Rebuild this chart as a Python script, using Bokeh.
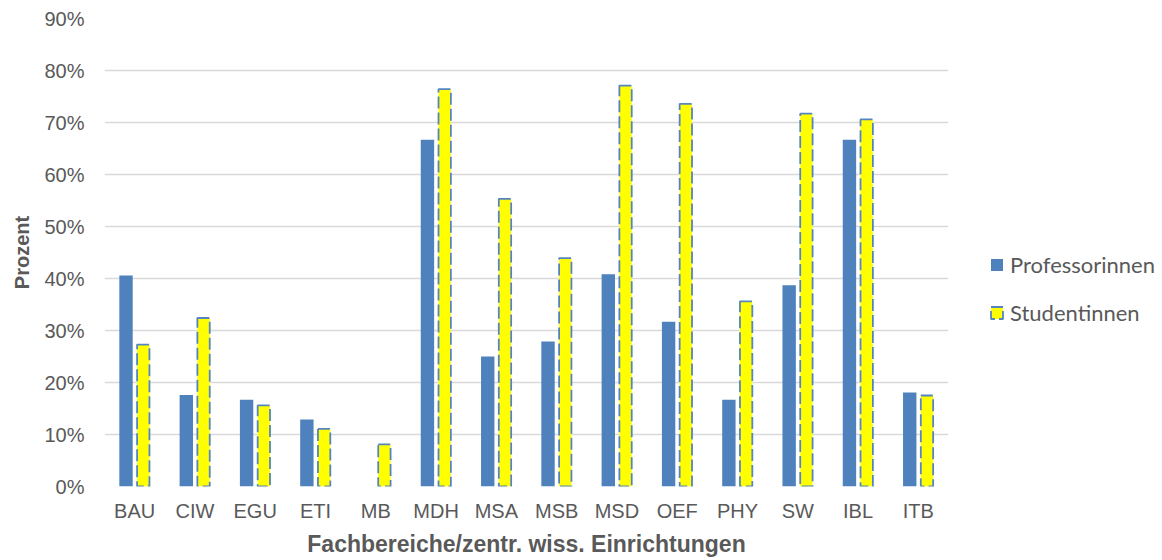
from bokeh.plotting import figure
from bokeh.models import (ColumnDataSource, FactorRange, Range1d, Legend, LegendItem,
                          PrintfTickFormatter, FixedTicker)
from bokeh.transform import dodge
from bokeh.embed import file_html
from bokeh.resources import INLINE

categories = ["BAU", "CIW", "EGU", "ETI", "MB", "MDH", "MSA", "MSB", "MSD", "OEF",
              "PHY", "SW", "IBL", "ITB"]
professorinnen = [40.6, 17.6, 16.7, 12.9, 0.0, 66.7, 25.0, 27.9, 40.8, 31.7,
                  16.7, 38.7, 66.7, 18.1]
studentinnen = [27.3, 32.4, 15.6, 11.1, 8.1, 76.4, 55.3, 43.9, 77.1, 73.6,
                35.6, 71.7, 70.6, 17.5]
y_ticks = [0, 10, 20, 30, 40, 50, 60, 70, 80, 90]

TEXT = "#595959"
BLUE = "#4F81BD"

source = ColumnDataSource(dict(cat=categories, prof=professorinnen, stud=studentinnen))

p = figure(x_range=FactorRange(*categories, range_padding=0),
           y_range=Range1d(0, 90),
           frame_width=844, frame_height=468,
           output_backend="svg", toolbar_location=None,
           min_border_left=104, min_border_right=212,
           min_border_top=18, min_border_bottom=72)

r1 = p.vbar(x=dodge("cat", -0.143, range=p.x_range), top="prof", width=0.222,
            source=source, fill_color=BLUE, line_color=None)
r2 = p.vbar(x=dodge("cat", 0.143, range=p.x_range), top="stud", width=0.205,
            source=source, fill_color="#FFFF00", line_color="#5585C0",
            line_width=1.8, line_dash="12 4")

p.outline_line_color = None
p.background_fill_color = "white"
p.border_fill_color = "white"

p.xgrid.grid_line_color = None
p.ygrid.grid_line_color = "#D9D9D9"
p.ygrid.grid_line_width = 1.3
p.yaxis.ticker = FixedTicker(ticks=y_ticks)
p.yaxis.formatter = PrintfTickFormatter(format="%d%%")

for ax in (p.xaxis, p.yaxis):
    ax.axis_line_color = None
    ax.major_tick_line_color = None
    ax.minor_tick_line_color = None
    ax.major_tick_out = 0
    ax.major_tick_in = 0
    ax.major_label_text_font = "Liberation Sans"
    ax.major_label_text_font_size = "20px"
    ax.major_label_text_color = TEXT
    ax.axis_label_text_font = "Liberation Sans"
    ax.axis_label_text_font_style = "bold"
    ax.axis_label_text_color = TEXT

p.xaxis.axis_label = "Fachbereiche/zentr. wiss. Einrichtungen"
p.xaxis.axis_label_text_font_size = "23px"
p.xaxis.major_label_standoff = 13
p.xaxis.axis_label_standoff = 6

p.yaxis.axis_label = "Prozent"
p.yaxis.axis_label_text_font_size = "20px"
p.yaxis.major_label_standoff = 20
p.yaxis.axis_label_standoff = 8

legend = Legend(items=[LegendItem(label="Professorinnen", renderers=[r1]),
                       LegendItem(label="Studentinnen", renderers=[r2])],
                location=(41, 160), orientation="vertical",
                border_line_color=None, background_fill_alpha=0,
                padding=0, margin=0, spacing=21,
                glyph_width=15, glyph_height=15, label_height=24,
                label_standoff=6,
                label_text_font="Lato", label_text_font_size="22px",
                label_text_color=TEXT)
p.add_layout(legend, "right")

open("out.html", "w").write(file_html(p, INLINE))
